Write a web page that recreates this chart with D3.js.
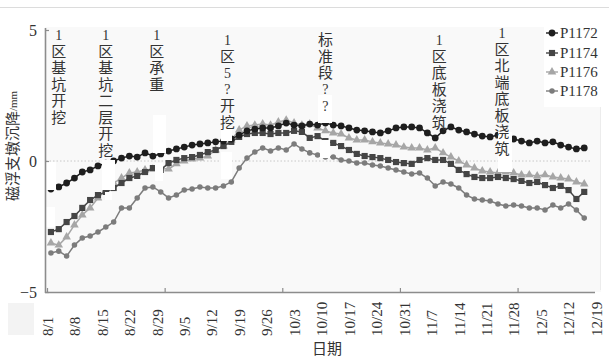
<!DOCTYPE html>
<html><head><meta charset="utf-8">
<script src="https://cdn.jsdelivr.net/npm/d3@7"></script>
<style>
html,body{margin:0;padding:0;background:#fff;}
svg{display:block;}
text{font-family:"Liberation Serif","Noto Sans CJK SC",serif;fill:#333;}
</style></head><body>
<svg id="chart" width="609" height="358"></svg>
<script>
// Settlement of maglev pier monitoring points, Aug–Dec
const YEAR = 2015;

const dates = [
  "8/2","8/4","8/6","8/8","8/10","8/12","8/14","8/16","8/18","8/20","8/22","8/24","8/26","8/28","8/30",
  "9/1","9/3","9/5","9/7","9/9","9/11","9/13","9/15","9/17","9/19","9/21","9/23","9/25","9/27","9/29",
  "10/1","10/3","10/5","10/7","10/9","10/11","10/13","10/15","10/17","10/19","10/21","10/23","10/25","10/27","10/29","10/31",
  "11/2","11/4","11/6","11/8","11/10","11/12","11/14","11/16","11/18","11/20","11/22","11/24","11/26","11/28","11/30",
  "12/2","12/4","12/6","12/8","12/10","12/12","12/14","12/16"
];

const P1172 = [
  -1.07,-0.99,-0.84,-0.65,-0.42,-0.34,-0.19,-0.08,0.00,0.11,
  0.19,0.15,0.31,0.19,0.27,0.38,0.46,0.53,0.61,0.65,
  0.69,0.73,0.76,0.84,0.99,1.15,1.22,1.26,1.26,1.34,
  1.45,1.37,1.34,1.41,1.37,1.45,1.37,1.34,1.26,1.18,
  1.15,1.11,1.07,1.15,1.26,1.30,1.30,1.26,1.07,0.88,
  1.15,1.30,1.18,1.11,1.03,0.95,0.92,0.99,0.88,0.84,
  0.76,0.69,0.76,0.69,0.73,0.61,0.53,0.46,0.50
];
const P1174 = [
  -2.71,-2.60,-2.33,-2.10,-1.79,-1.49,-1.30,-1.18,-1.03,-0.84,
  -0.65,-0.57,-0.42,-0.27,-0.34,-0.08,0.04,0.11,0.15,0.23,
  0.34,0.42,0.57,0.73,0.92,1.03,1.07,1.07,1.03,1.07,
  1.07,1.15,1.11,0.88,0.95,0.76,0.69,0.57,0.42,0.27,
  0.19,0.15,0.11,0.04,-0.04,-0.08,-0.11,0.04,0.11,0.04,
  0.04,-0.11,-0.34,-0.50,-0.61,-0.65,-0.65,-0.61,-0.65,-0.69,
  -0.76,-0.84,-0.80,-0.92,-1.03,-0.95,-1.11,-1.45,-1.18
];
const P1176 = [
  -3.13,-3.21,-2.90,-2.44,-2.06,-1.79,-1.41,-1.11,-0.84,-0.65,
  -0.46,-0.42,-0.34,-0.31,-0.27,-0.31,-0.11,0.00,0.08,0.11,
  0.19,0.42,0.57,0.80,1.18,1.34,1.37,1.41,1.37,1.49,
  1.56,1.45,1.37,1.41,1.26,1.15,1.07,1.03,0.88,0.80,
  0.80,0.73,0.69,0.65,0.61,0.53,0.50,0.50,0.42,0.50,
  0.31,0.15,0.00,-0.15,-0.27,-0.38,-0.42,-0.46,-0.42,-0.46,
  -0.53,-0.53,-0.57,-0.53,-0.61,-0.65,-0.69,-0.80,-0.88
];
const P1178 = [
  -3.51,-3.44,-3.63,-3.21,-2.94,-2.86,-2.71,-2.52,-2.33,-1.79,
  -1.79,-1.41,-1.03,-0.99,-1.18,-1.41,-1.30,-1.11,-1.07,-0.99,
  -1.03,-1.03,-0.95,-0.80,-0.27,0.11,0.34,0.50,0.38,0.50,
  0.42,0.65,0.46,0.31,0.23,0.15,0.15,0.04,0.00,-0.08,
  -0.08,-0.15,-0.19,-0.27,-0.34,-0.42,-0.50,-0.46,-0.65,-0.95,
  -0.80,-0.88,-1.03,-1.30,-1.45,-1.49,-1.53,-1.64,-1.72,-1.68,
  -1.72,-1.79,-1.79,-1.87,-1.68,-1.79,-1.64,-1.87,-2.18
];

const seriesNames = ["P1172","P1174","P1176","P1178"];
const seriesValues = [P1172, P1174, P1176, P1178];

const xTickLabels = ["8/1","8/8","8/15","8/22","8/29","9/5","9/12","9/19","9/26","10/3","10/10",
  "10/17","10/24","10/31","11/7","11/14","11/21","11/28","12/5","12/12","12/19"];
const xMarkTicks = ["8/1","8/31","9/30","10/30","11/29"];
const yTicks = [-5, 0, 5];

// construction events written vertically above the curves
const eventDates = ["8/4","8/16","8/29","9/16","10/11","11/9","11/25"];
const eventTexts = [
  ["1","区","基","坑","开","挖"],
  ["1","区","基","坑","二","层","开","挖"],
  ["1","区","承","重"],
  ["1","区","5","?","开","挖"],
  ["标","准","段","?","?"],
  ["1","区","底","板","浇","筑"],
  ["1","区","北","端","底","板","浇","筑"]
];

// ---- layout / style ----
const styles = {
  P1172: {color:"#1e1e1e", symbol:d3.symbolCircle, size:36},
  P1174: {color:"#454545", symbol:d3.symbolSquare, size:38},
  P1176: {color:"#a6a6a6", symbol:d3.symbolTriangle, size:32},
  P1178: {color:"#7c7c7c", symbol:d3.symbolCircle, size:24}
};
const eventTop = [35, 35, 35, 40, 40, 40, 33];
const ASCII_STEP = 16.5, CJK_STEP = 16.5;
const maskBoxes = [ // white label backing strips [x0, x1, y0, y1]
  [46,56,162,190],[46,55,207,227],
  [102,115,160,190],[105,112,192,200],
  [153,166,115,153],[155,163,163,181],
  [221,232,128,141],[221,232,152,179],
  [318,332,95,123],[320,330,140,158],
  [498,512,132,172]
];

const parse = s => d3.timeParse("%Y/%m/%d")(YEAR + "/" + s);
const svg = d3.select("#chart");

const x = d3.scaleTime().domain([parse("8/1"), parse("12/19")]).range([47, 596]);
const y = d3.scaleLinear().domain([-5, 5]).range([292, 30]);

// page frame
svg.append("line").attr("x1",0).attr("x2",609).attr("y1",7.5).attr("y2",7.5)
  .attr("stroke","#dcdcdc").attr("stroke-width",1);
svg.append("rect").attr("x",45).attr("y",27).attr("width",556).attr("height",265).attr("fill","#f9f9f9");
svg.append("rect").attr("x",8).attr("y",303).attr("width",26).attr("height",32).attr("fill","#f3f3f3");
svg.append("line").attr("x1",600.5).attr("x2",600.5).attr("y1",28).attr("y2",290)
  .attr("stroke","#ececec");

// zero reference line
svg.append("line").attr("x1",46).attr("x2",590).attr("y1",y(0)).attr("y2",y(0))
  .attr("stroke","#c8c8c8").attr("stroke-width",1).attr("stroke-dasharray","1.5,2");

// series
const line = d3.line().x(d => x(d.date)).y(d => y(d.v));
const plot = svg.append("g");
seriesNames.slice().reverse().forEach(name => {
  const vals = seriesValues[seriesNames.indexOf(name)];
  const pts = dates.map((d, i) => ({date: parse(d), v: vals[i]}));
  const st = styles[name];
  const g = plot.append("g");
  g.append("path").datum(pts).attr("d", line).attr("fill","none")
    .attr("stroke", st.color).attr("stroke-width", 1.5);
  g.selectAll("path.pt").data(pts).join("path").attr("class","pt")
    .attr("transform", d => `translate(${x(d.date)},${y(d.v)})`)
    .attr("d", d3.symbol().type(st.symbol).size(st.size)())
    .attr("fill", st.color);
});

// white strips behind the event labels
svg.append("g").selectAll("rect").data(maskBoxes).join("rect")
  .attr("x", d => d[0]).attr("y", d => d[2])
  .attr("width", d => d[1]-d[0]).attr("height", d => d[3]-d[2])
  .attr("fill","#fff");

// event labels
const evG = svg.append("g");
eventDates.forEach((ds, i) => {
  const cx = x(parse(ds));
  let cy = eventTop[i];
  let prevAscii = null;
  eventTexts[i].forEach((ch, j) => {
    const ascii = /[\x00-\x7f]/.test(ch);
    if (j > 0) cy += ((prevAscii ? ASCII_STEP : CJK_STEP) + (ascii ? ASCII_STEP : CJK_STEP)) / 2;
    evG.append("text").attr("x", cx).attr("y", cy)
      .attr("text-anchor","middle").attr("dominant-baseline","central")
      .style("font-size", ascii ? "14px" : "15px")
      .text(ch);
    prevAscii = ascii;
  });
});

// axes
const gx = svg.append("g").attr("transform","translate(0,292)")
  .call(d3.axisBottom(x).tickValues(xTickLabels.map(parse)).tickSize(0)
    .tickFormat((d, i) => xTickLabels[i]));
gx.select(".domain").attr("stroke","#8c8c8c").attr("stroke-width",1.6)
  .attr("d","M45,0.5H595");
gx.selectAll("text")
  .attr("transform","rotate(-90)").attr("x",-44).attr("y",0).attr("dy","0.35em")
  .attr("text-anchor","start").style("font-size","15px").attr("fill","#333");

const gx2 = svg.append("g").attr("transform","translate(0,292)")
  .call(d3.axisBottom(x).tickValues(xMarkTicks.map(parse)).tickSizeInner(-4).tickSizeOuter(0).tickFormat(""));
gx2.select(".domain").remove();
gx2.selectAll("line").attr("stroke","#8c8c8c").attr("stroke-width",1.2);

const gy = svg.append("g").attr("transform","translate(45,0)")
  .call(d3.axisLeft(y).tickValues(yTicks).tickSizeInner(-4).tickSizeOuter(0).tickPadding(8)
    .tickFormat(d => d < 0 ? "\u2212" + Math.abs(d) : d));
gy.select(".domain").attr("stroke","#8c8c8c").attr("stroke-width",1.6)
  .attr("d","M0.5,28V293");
gy.selectAll("line").attr("stroke","#8c8c8c").attr("stroke-width",1.2);
gy.selectAll("text").style("font-size","16px").attr("fill","#333");

// axis titles
svg.append("text").attr("x",327).attr("y",349).attr("text-anchor","middle")
  .attr("dominant-baseline","central").style("font-size","15px").text("日期");
const yt = svg.append("text").attr("transform","translate(13,146) rotate(-90)")
  .attr("text-anchor","middle").attr("dominant-baseline","central").style("font-size","15px");
yt.append("tspan").text("磁浮支墩沉降");
yt.append("tspan").style("font-size","11px").text("/mm");

// legend
const lg = svg.append("g");
lg.append("rect").attr("x",544).attr("y",25).attr("width",58).attr("height",82).attr("fill","#fff");
const legendY = [33, 53, 72, 91];
seriesNames.forEach((name, i) => {
  const st = styles[name];
  const row = lg.append("g").attr("transform",`translate(0,${legendY[i]})`);
  row.append("line").attr("x1",546).attr("x2",558).attr("stroke",st.color).attr("stroke-width",1.4);
  row.append("path").attr("transform","translate(552,0)")
    .attr("d", d3.symbol().type(st.symbol).size(st.size)()).attr("fill",st.color);
  row.append("text").attr("x",560).attr("y",0).attr("dominant-baseline","central")
    .style("font-size","15px").text(name);
});
</script>
</body></html>
